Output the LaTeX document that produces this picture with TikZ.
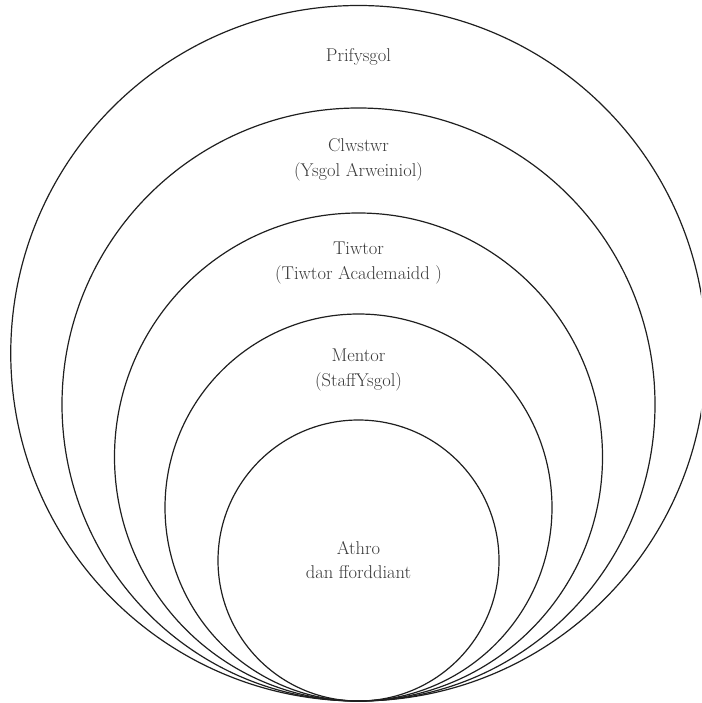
\documentclass[tikz,border=0pt]{standalone}
\begin{document}
\begin{tikzpicture}[x=1pt,y=-1pt,
  ring/.style={draw=black!88, line width=1.2pt, circle, inner sep=0pt, outer sep=0pt},
  lbl/.style={align=center, font=\fontsize{18.5}{24.5}\selectfont, text=black!78, inner sep=0pt}]
\useasboundingbox (0,0) rectangle (701,703);
\clip (0,0) rectangle (701,703);
\node[ring, minimum size=695.5pt] (c1) at (358.5,353.25) {};
\node[ring, minimum size=593pt] (c2) at (358.5,404.5) {};
\node[ring, minimum size=488pt] (c3) at (358.5,457) {};
\node[ring, minimum size=387pt] (c4) at (358.5,507.5) {};
\node[ring, minimum size=281pt] (c5) at (358.5,560.5) {};
\node[lbl] (t1) at (358.5,57) {Prifysgol};
\node[lbl] (t2) at (358.5,160) {Clwstwr\\(Ysgol Arweiniol)};
\node[lbl] (t3) at (358.5,263) {Tiwtor\\(Tiwtor Academaidd )};
\node[lbl] (t4) at (358.5,370) {Mentor\\(StaffYsgol)};
\node[lbl] (t5) at (358.5,560) {Athro\\dan fforddiant};
\end{tikzpicture}
\end{document}
